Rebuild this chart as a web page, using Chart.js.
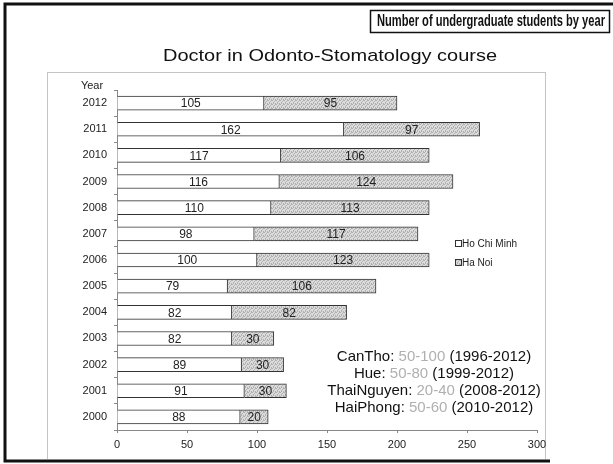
<!DOCTYPE html>
<html>
<head>
<meta charset="utf-8">
<script src="https://cdn.jsdelivr.net/npm/chart.js@4/dist/chart.umd.min.js"></script>
<style>
  body { margin: 0; background: #fff; }
  canvas { display: block; }
</style>
</head>
<body>
<canvas id="myChart" width="613" height="464"></canvas>
<script>
// values
const years = ['2012', '2011', '2010', '2009', '2008', '2007', '2006', '2005', '2004', '2003', '2002', '2001', '2000'];
const hoChiMinh = [105, 162, 117, 116, 110, 98, 100, 79, 82, 82, 89, 91, 88];
const haNoi = [95, 97, 106, 124, 113, 117, 123, 106, 82, 30, 30, 30, 20];
const xTicks = [0, 50, 100, 150, 200, 250, 300];
const notes = [
  ['CanTho: ', '50-100', ' (1996-2012)'],
  ['Hue: ', '50-80', ' (1999-2012)'],
  ['ThaiNguyen: ', '20-40', ' (2008-2012)'],
  ['HaiPhong: ', '50-60', ' (2010-2012)'],
];

// stippled grey fill like the scan
const pat = document.createElement('canvas');
pat.width = 4; pat.height = 4;
const pctx = pat.getContext('2d');
pctx.fillStyle = '#dcdcdc'; pctx.fillRect(0, 0, 4, 4);
pctx.fillStyle = '#b0b0b0';
[[0, 0], [2, 1], [1, 2], [3, 3], [3, 0], [1, 3]].forEach(([x, y]) => pctx.fillRect(x, y, 1, 1));
const greyFill = document.getElementById('myChart').getContext('2d').createPattern(pat, 'repeat');

// draw text squeezed/stretched to a given width
function fitText(c, text, cx, cy, width) {
  const w = c.measureText(text).width;
  c.save();
  c.translate(cx, cy);
  c.scale(width / w, 1);
  c.fillText(text, 0, 0);
  c.restore();
}

const decor = {
  id: 'decor',
  beforeDraw(chart) {
    const c = chart.ctx;
    c.save();
    c.fillStyle = '#fff';
    c.fillRect(0, 0, chart.width, chart.height);
    // outer frame
    c.strokeStyle = '#111';
    c.lineWidth = 3;
    c.beginPath();
    c.moveTo(613, 4); c.lineTo(5, 4); c.lineTo(5, 461); c.lineTo(550, 461);
    c.stroke();
    // title box
    c.lineWidth = 1.5;
    c.strokeRect(370.5, 10.5, 239, 22);
    c.fillStyle = '#111';
    c.font = 'bold 16px Arial';
    c.textAlign = 'center';
    c.textBaseline = 'middle';
    fitText(c, 'Number of undergraduate students by year', 491, 22, 228);
    c.font = '17px Arial';
    fitText(c, 'Doctor in Odonto-Stomatology course', 330, 56, 334);
    // dotted plot frame
    c.strokeStyle = '#888';
    c.lineWidth = 1;
    c.setLineDash([1, 1]);
    c.strokeRect(47.5, 72.5, 498, 387);
    c.restore();
  },
  afterDraw(chart) {
    const c = chart.ctx;
    c.save();
    c.textAlign = 'center';
    c.textBaseline = 'middle';
    c.fillStyle = '#222';
    c.font = '11px Arial';
    c.fillText('Year', 92, 86);
    // value labels centred in each segment
    c.font = '12px Arial';
    chart.data.datasets.forEach((ds, i) => {
      chart.getDatasetMeta(i).data.forEach((bar, j) => {
        const x = (bar.x + bar.base) / 2;
        c.fillText(ds.data[j], x, bar.y + 1);
      });
    });
    // legend
    c.textAlign = 'left';
    c.font = '10px Arial';
    chart.data.datasets.forEach((ds, i) => {
      const y = 244 + i * 19;
      c.fillStyle = ds.backgroundColor;
      c.fillRect(455, y - 3, 6, 6);
      c.strokeStyle = '#333';
      c.lineWidth = 1;
      c.strokeRect(455.5, y - 3.5, 6, 6);
      c.fillStyle = '#222';
      c.fillText(ds.label, 462, y);
    });
    // notes on other schools
    c.font = '15px Arial';
    notes.forEach((parts, i) => {
      const y = 357 + i * 17;
      const total = parts.reduce((s, p) => s + c.measureText(p).width, 0);
      let x = 434 - total / 2;
      parts.forEach((p, k) => {
        c.fillStyle = k === 1 ? '#b0b0b0' : '#111';
        c.fillText(p, x, y);
        x += c.measureText(p).width;
      });
    });
    c.restore();
  }
};

new Chart(document.getElementById('myChart'), {
  type: 'bar',
  data: {
    labels: years,
    datasets: [
      { label: 'Ho Chi Minh', data: hoChiMinh, backgroundColor: '#ffffff', borderColor: '#333', borderWidth: 1, barThickness: 14 },
      { label: 'Ha Noi', data: haNoi, backgroundColor: greyFill, borderColor: '#333', borderWidth: 1, barThickness: 14 },
    ],
  },
  options: {
    indexAxis: 'y',
    responsive: false,
    animation: false,
    layout: { padding: { left: 0, top: 90, right: 76, bottom: 0 } },
    plugins: { legend: { display: false }, tooltip: { enabled: false } },
    scales: {
      x: {
        stacked: true,
        min: 0,
        max: 300,
        afterBuildTicks: (axis) => { axis.ticks = xTicks.map(v => ({ value: v })); },
        afterFit: (axis) => { axis.height = 34; },
        ticks: { color: '#222', font: { family: 'Arial', size: 11 }, padding: 5 },
        grid: { drawOnChartArea: false, tickLength: 3, color: '#888' },
        border: { color: '#888', dash: [1, 1] },
      },
      y: {
        stacked: true,
        afterFit: (axis) => { axis.width = 117; },
        ticks: { color: '#222', font: { family: 'Arial', size: 11 }, padding: 7 },
        grid: { drawOnChartArea: false, tickLength: 3, color: '#888' },
        border: { color: '#888', dash: [1, 1] },
      },
    },
  },
  plugins: [decor],
});
</script>
</body>
</html>
